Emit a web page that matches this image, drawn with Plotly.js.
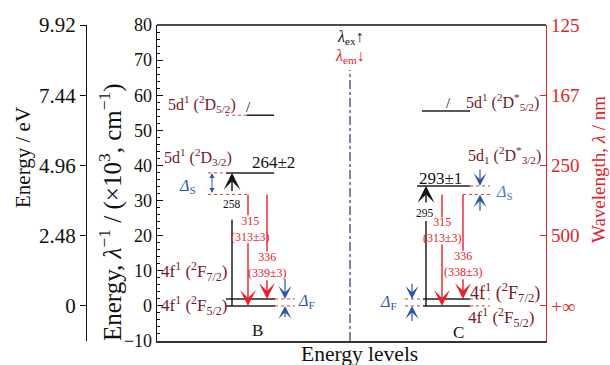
<!DOCTYPE html>
<html><head><meta charset="utf-8">
<script src="https://cdn.plot.ly/plotly-3.0.1.min.js"></script>
<style>html,body{margin:0;padding:0;background:#fff}</style>
</head><body><div id="chart" style="width:610px;height:365px"></div>
<script>
// ---- data (energies in 10^3 cm^-1) ----
const axisTicks = [0, 20, 40, 60, 80];
const eVLabels = ['0', '2.48', '4.96', '7.44', '9.92'];
const nmLabels = ['+∞', '500', '250', '167', '125'];
// levels: [2F5/2, 2F7/2, 2D3/2, 2D5/2]
const levelsB = [0, 1.98, 37.88, 54.3];
const levelsC = [0, 1.98, 34.13, 55.5];
const relaxedLevel = 31.75;
const absB = '264±2';
const absC = '293±1';
const excB = '258';
const excC = '295';
const emCalc = ['315', '336'];
const emExpB = ['313±3', '339±3'];
const emExpC = ['313±3', '338±3'];

// ---- styling ----
const FONT = 'Liberation Serif, Times New Roman, serif';
const MAROON = '#731c2a';
const RED = '#e8202a';
const BLUE = '#2a58a8';
const BLUE2 = '#4f7ad0';
const AXRED = '#e0262c';

const shapes = [];
const ann = [];
function hline(x0, x1, y, color, dash, width) {
  shapes.push({type: 'line', xref: 'x', yref: 'y', x0: x0, x1: x1, y0: y, y1: y,
    line: {color: color, dash: dash || 'solid', width: width || 1.5}});
}
function vline(x, y0, y1, color, dash, width) {
  shapes.push({type: 'line', xref: 'x', yref: 'y', x0: x, x1: x, y0: y0, y1: y1,
    line: {color: color, dash: dash || 'solid', width: width || 1.5}});
}
function arrow(x, tail, tip, color, size, width, side, head) {
  ann.push({x: x, y: tip, ax: x, ay: tail, xref: 'x', yref: 'y', axref: 'x', ayref: 'y',
    text: '', showarrow: true, arrowhead: head || 3, arrowsize: size, arrowwidth: width,
    arrowcolor: color, arrowside: side || 'end', standoff: 0, startstandoff: 0});
}
// arrow whose shaft is interrupted by a label between gapLo and gapHi
function gapArrow(x, tail, tip, gapLo, gapHi, color, size, width) {
  if (tip > tail) {
    vline(x, tail, gapLo, color, 'solid', width);
    arrow(x, gapHi, tip, color, size, width);
  } else {
    vline(x, tail, gapHi, color, 'solid', width);
    arrow(x, gapLo, tip, color, size, width);
  }
}
function label(x, y, text, size, color, xa, ya) {
  ann.push({x: x, y: y, xref: 'x', yref: 'y', text: text, showarrow: false,
    xanchor: xa || 'center', yanchor: ya || 'middle',
    font: {family: FONT, size: size, color: color}, borderpad: 0});
}
const L = 86, R = 64, W = 610, T = 25, B = 24, H = 365;
const plotW = W - L - R, plotH = H - T - B;
function ptitle(px, py, text, size, color, angle, xa, ya) {
  ann.push({xref: 'paper', yref: 'paper', x: (px - L) / plotW, y: (H - B - py) / plotH,
    text: text, showarrow: false, textangle: angle || 0,
    xanchor: xa || 'center', yanchor: ya || 'middle',
    font: {family: FONT, size: size, color: color}});
}
const dotRed = 'rgba(200,40,50,0.9)';

// ---- B diagram ----
hline(226, 275, levelsB[0], '#222');
hline(226, 275, levelsB[1], '#222');
hline(275, 295, levelsB[0], dotRed, 'dot', 1);
hline(275, 295, levelsB[1], dotRed, 'dot', 1);
hline(226, 274, levelsB[2], '#222');
hline(208, 232, levelsB[2], dotRed, 'dot', 1);
hline(208, 250, relaxedLevel, dotRed, 'dot', 1);
hline(247, 274, levelsB[3], '#222');
hline(226, 247, levelsB[3], dotRed, 'dot', 1);

gapArrow(232, levelsB[0], levelsB[2], 24.5, 32.3, '#111', 2.0, 1.4);
arrow(212, relaxedLevel, levelsB[2], BLUE, 1.0, 1, 'end+start', 2);
gapArrow(248, relaxedLevel, levelsB[0], 18.3, 25.8, RED, 1.9, 1.4);
gapArrow(267, relaxedLevel, levelsB[1], 7.7, 15.5, RED, 1.9, 1.4);
arrow(285, 8.1, levelsB[1], BLUE, 1.8, 1.2);
arrow(285, -3.6, levelsB[0], BLUE, 1.8, 1.2);

label(232, 28.9, excB, 11.5, '#111');
label(250, 22, emCalc[0] + '<br>(' + emExpB[0] + ')', 12, RED);
label(267, 11.6, emCalc[1] + '<br>(' + emExpB[1] + ')', 12, RED);
label(273, 40.9, absB, 17, '#111');
label(248, 56.6, '/', 15, '#111');
label(237, 57.5, '5d<sup>1</sup> (<sup>2</sup>D<sub>5/2</sub>)', 16, MAROON, 'right');
label(233, 42.4, '5d<sup>1</sup> (<sup>2</sup>D<sub>3/2</sub>)', 16, MAROON, 'right');
label(228, 9.8, '4f<sup>1</sup> (<sup>2</sup>F<sub>7/2</sub>)', 17, MAROON, 'right');
label(228, 0.1, '4f<sup>1</sup> (<sup>2</sup>F<sub>5/2</sub>)', 17, MAROON, 'right');
label(187, 34.1, '<i>Δ</i><sub>S</sub>', 16, BLUE);
label(297, 1.3, '<i>Δ</i><sub>F</sub>', 16, BLUE, 'left');
label(257, -7.0, 'B', 17, '#111');

// ---- middle ----
vline(350, -10, 67.2, '#3c3f7d', 'dashdot', 1.3);
label(350, 76.3, '<i>λ</i><sub>ex</sub>↑', 16, '#111');
label(350, 70.9, '<i>λ</i><sub>em</sub>↓', 16, RED);

// ---- C diagram ----
hline(423, 470, levelsC[0], '#222');
hline(423, 470, levelsC[1], '#222');
hline(405, 423, levelsC[0], dotRed, 'dot', 1);
hline(405, 423, levelsC[1], dotRed, 'dot', 1);
hline(470, 490, levelsC[0], dotRed, 'dot', 1);
hline(470, 490, levelsC[1], dotRed, 'dot', 1);
hline(417, 470, levelsC[2], '#222');
hline(470, 490, levelsC[2], dotRed, 'dot', 1);
hline(463, 490, relaxedLevel, dotRed, 'dot', 1);
hline(422, 470, levelsC[3], '#222');

gapArrow(426, levelsC[0], levelsC[2], 24.2, 29.0, '#111', 2.0, 1.4);
gapArrow(442, relaxedLevel, levelsC[0], 17.9, 25.2, RED, 1.9, 1.4);
gapArrow(463, relaxedLevel, levelsC[1], 8.0, 15.7, RED, 1.9, 1.4);
arrow(480, 39.2, levelsC[2], BLUE, 1.8, 1.2);
arrow(480, 26.7, relaxedLevel, BLUE, 1.8, 1.2);
arrow(412, 6.7, levelsC[1], BLUE, 1.8, 1.2);
arrow(412, -4.7, levelsC[0], BLUE, 1.8, 1.2);

label(425, 26.4, excC, 11.5, '#111');
label(442, 21.5, emCalc[0] + '<br>(' + emExpC[0] + ')', 12, RED);
label(463, 11.8, emCalc[1] + '<br>(' + emExpC[1] + ')', 12, RED);
label(440, 36.4, absC, 17, '#111');
label(448, 57.8, '/', 15, '#111');
label(465, 58.0, '5d<sup>1</sup> (<sup>2</sup>D<sup>*</sup><sub>5/2</sub>)', 16, MAROON, 'left');
label(467, 42.9, '5d<sub>1</sub> (<sup>2</sup>D<sup>*</sup><sub>3/2</sub>)', 16, MAROON, 'left');
label(469, 3.85, '4f<sup>1</sup> (<sup>2</sup>F<sub>7/2</sub>)', 18, MAROON, 'left');
label(467, -3.3, '4f<sup>1</sup> (<sup>2</sup>F<sub>5/2</sub>)', 17, MAROON, 'left');
label(495, 32.4, '<i>Δ</i><sub>S</sub>', 16, BLUE2, 'left');
label(398, 1.0, '<i>Δ</i><sub>F</sub>', 16, BLUE, 'right');
label(458, -7.6, 'C', 17, '#111');

// ---- axis titles ----
ptitle(110, 212, 'Energy, <i>λ</i><sup>−1</sup> / (×10<sup>3</sup>, cm<sup>−1</sup>)', 25, '#111', -90);
ptitle(23, 158, 'Energy / eV', 21, '#111', -90);
ptitle(598, 170, 'Wavelength, <i>λ</i> / nm', 19, AXRED, -90);
ptitle(359, 340, 'Energy levels', 21.5, '#111', 0, 'center', 'top');

const traces = [
  {x: [157], y: [0], xaxis: 'x', yaxis: 'y', mode: 'markers', marker: {opacity: 0}, hoverinfo: 'skip', showlegend: false},
  {x: [157], y: [0], xaxis: 'x', yaxis: 'y2', mode: 'markers', marker: {opacity: 0}, hoverinfo: 'skip', showlegend: false},
  {x: [157], y: [0], xaxis: 'x', yaxis: 'y3', mode: 'markers', marker: {opacity: 0}, hoverinfo: 'skip', showlegend: false}
];

const xStart = (157 - L) / plotW;

const layout = {
  width: W, height: H,
  margin: {l: L, r: R, t: T, b: B, pad: 0},
  paper_bgcolor: '#fff', plot_bgcolor: '#fff',
  showlegend: false,
  font: {family: FONT, color: '#111'},
  xaxis: {domain: [xStart, 1], range: [157, 546], showgrid: false, zeroline: false,
    showticklabels: false, ticks: '', showline: true, linecolor: '#333', linewidth: 2,
    mirror: false, fixedrange: true},
  yaxis: {range: [-10, 80], dtick: 10, tick0: 0, ticks: 'inside', ticklen: 6, tickwidth: 1,
    tickcolor: '#111', showline: true, linecolor: '#111', linewidth: 1.3, showgrid: false,
    zeroline: false, tickfont: {size: 18, family: FONT, color: '#111'},
    minor: {dtick: 2, ticks: 'inside', ticklen: 3, tickcolor: '#111', showgrid: false}},
  yaxis2: {range: [-10, 80], overlaying: 'y', anchor: 'free', position: 0, side: 'left',
    tickmode: 'array', tickvals: axisTicks, ticktext: eVLabels, ticks: 'outside', ticklen: 6,
    tickcolor: '#111', showline: true, linecolor: '#111', linewidth: 1.2, showgrid: false,
    zeroline: false, tickfont: {size: 21, family: FONT, color: '#111'}},
  yaxis3: {range: [-10, 80], overlaying: 'y', anchor: 'x', side: 'right',
    tickmode: 'array', tickvals: axisTicks, ticktext: nmLabels, ticks: 'inside', ticklen: 6,
    tickcolor: AXRED, showline: true, linecolor: AXRED, linewidth: 1.3, showgrid: false,
    zeroline: false, tickfont: {size: 19, family: FONT, color: AXRED}},
  shapes: shapes.concat([
    {type: 'line', xref: 'paper', yref: 'paper', x0: xStart, x1: 1, y0: 1, y1: 1, line: {color: '#111', width: 1.3}}
  ]),
  annotations: ann
};

Plotly.newPlot('chart', traces, layout, {displayModeBar: false, staticPlot: true});
</script>
</body></html>
